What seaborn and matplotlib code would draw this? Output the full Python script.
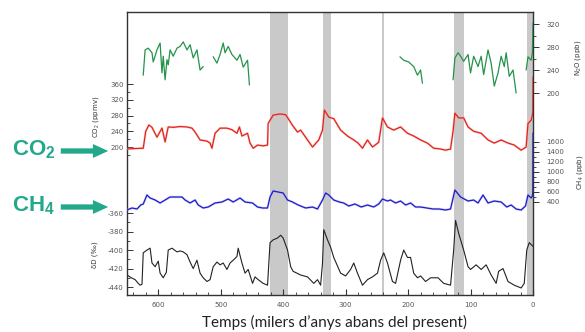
import numpy as np
import pandas as pd
import matplotlib
matplotlib.use("Agg")
import matplotlib.pyplot as plt
from matplotlib.ticker import MultipleLocator, FixedLocator
import seaborn as sns

sns.set_theme(style="ticks")
plt.rcParams["font.family"] = ["DejaVu Sans"]
plt.rcParams["axes.unicode_minus"] = False
plt.rcParams["mathtext.fontset"] = "custom"
plt.rcParams["mathtext.rm"] = "Liberation Sans"
plt.rcParams["mathtext.bf"] = "Liberation Sans:bold"

# -----------------------------
# Data (ages in kyr before present)
# -----------------------------
co2_age = [650, 640, 624, 620, 615, 610, 602, 594, 589, 584, 576, 565, 554, 546, 541,
           533, 522, 517, 514, 509, 501, 490, 482, 474, 470, 466, 457, 453, 448, 441,
           432, 425, 424, 416, 405, 396, 393, 385, 377, 372, 361, 353, 343, 337, 334,
           327, 319, 308, 297, 287, 280, 273, 265, 257, 247, 241, 233, 223, 212, 201,
           191, 180, 169, 159, 148, 140, 132, 128, 125, 119, 111, 104, 95, 83, 72,
           62, 51, 40, 30, 19, 11, 8, 3, 1, 0.3, 0]
co2_val = [195, 196, 197, 240, 256, 250, 225, 248, 213, 251, 250, 252, 251, 248, 238,
           218, 215, 210, 197, 235, 248, 248, 244, 235, 251, 228, 235, 210, 197, 205,
           203, 205, 260, 281, 284, 282, 275, 255, 238, 243, 218, 200, 218, 243, 294,
           276, 272, 243, 228, 218, 210, 197, 218, 200, 212, 274, 251, 243, 251, 235,
           228, 218, 210, 197, 195, 192, 195, 240, 286, 274, 274, 251, 240, 235, 218,
           210, 218, 210, 205, 192, 200, 260, 268, 281, 290, 378]

ch4_age = [650, 642, 634, 628, 624, 618, 613, 605, 597, 589, 581, 573, 562, 557, 549,
           541, 536, 528, 520, 509, 498, 488, 480, 469, 461, 449, 441, 433, 425, 421,
           416, 408, 400, 393, 385, 376, 364, 353, 345, 337, 332, 327, 319, 310, 303,
           295, 285, 275, 265, 255, 247, 241, 233, 228, 220, 212, 204, 196, 188, 180,
           170, 160, 150, 140, 132, 125, 116, 104, 95, 88, 80, 72, 62, 51, 42,
           35, 27, 19, 12, 8, 3, 1, 0.3, 0]
ch4_val = [240, 280, 260, 340, 360, 540, 480, 440, 380, 440, 500, 500, 500, 440, 380,
           440, 340, 280, 300, 380, 400, 460, 400, 480, 400, 380, 300, 280, 280, 500,
           620, 600, 580, 440, 400, 340, 280, 300, 260, 440, 580, 540, 440, 400, 380,
           320, 360, 300, 340, 300, 360, 460, 420, 440, 380, 420, 340, 380, 300, 300,
           280, 260, 260, 240, 260, 640, 500, 420, 440, 380, 540, 380, 420, 400, 300,
           340, 260, 240, 320, 540, 480, 520, 600, 1780]

dd_age = [650, 643, 637, 632, 629, 626, 624, 618, 613, 610, 605, 600, 597, 592, 587,
          584, 578, 570, 565, 560, 554, 549, 544, 538, 533, 528, 522, 517, 512, 506,
          501, 496, 490, 485, 480, 474, 472, 466, 461, 456, 449, 445, 440, 432, 425,
          421, 416, 409, 404, 400, 393, 388, 384, 372, 361, 351, 345, 340, 337, 335,
          329, 324, 319, 308, 300, 292, 287, 281, 273, 265, 257, 249, 244, 239, 233,
          225, 220, 212, 207, 201, 196, 191, 185, 180, 172, 164, 152, 143, 132, 127,
          124, 119, 111, 104, 100, 91, 83, 75, 67, 59, 55, 48, 40, 30, 19,
          14, 10, 6, 0]
dd_val = [-427, -430, -432, -436, -438, -437, -403, -400, -398, -414, -418, -412, -425, -430, -424,
          -400, -398, -402, -401, -402, -405, -413, -420, -411, -425, -430, -434, -432, -418, -413,
          -416, -414, -421, -414, -411, -407, -398, -414, -425, -421, -436, -429, -432, -436, -438,
          -392, -389, -387, -384, -387, -400, -418, -423, -427, -429, -436, -432, -438, -414, -378,
          -389, -397, -408, -425, -428, -421, -414, -425, -438, -432, -429, -425, -411, -403, -414,
          -434, -436, -411, -400, -408, -408, -425, -430, -428, -434, -430, -430, -436, -438, -400,
          -368, -382, -400, -418, -421, -416, -421, -416, -427, -436, -423, -420, -434, -438, -441,
          -436, -400, -392, -396]

# N2O record has gaps (NaN separates the pieces)
n2o_age = [624, 621, 616, 610, 608, 602, 597, 594, 592, 589, 586, 584, 581, 576, 570,
           565, 560, 554, 549, 544, 538, 533, 528, np.nan,
           512, 506, 501, 496, 493, 488, 482, 474, 469, 464, 457, 454, np.nan,
           213, 207, 199, 191, 185, 180, 177, np.nan,
           128, 125, 120, 116, 111, 104, 100, 95, 88, 83, 79, 72, 67, 62, 56,
           51, 46, 43, 38, 32, 27, np.nan,
           11, 8, 3, 1, 0]
n2o_val = [231, 275, 278, 270, 254, 275, 287, 235, 264, 223, 258, 249, 275, 264, 278,
           281, 289, 275, 284, 261, 275, 240, 246, np.nan,
           263, 252, 267, 287, 270, 281, 267, 257, 267, 245, 257, 214, np.nan,
           263, 257, 254, 246, 231, 240, 217, np.nan,
           223, 261, 270, 264, 255, 267, 235, 264, 246, 264, 232, 275, 252, 212, 235,
           264, 246, 270, 229, 240, 200, np.nan,
           240, 263, 257, 270, 322]

interglacials = [(421, 393), (337, 323), (241, 238.5), (127, 111), (10, 0)]

x_ticks = [600, 500, 400, 300, 200, 100, 0]
co2_ticks = [200, 240, 280, 320, 360]
dd_ticks = [-440, -420, -400, -380, -360]
n2o_ticks = [200, 240, 280, 320]
ch4_ticks = [400, 600, 800, 1000, 1200, 1400, 1600]

TEAL = "#23a98a"
TICK_COL = "#555555"

# -----------------------------
# Figure
# -----------------------------
W, H = 585, 332
fig = plt.figure(figsize=(W / 100, H / 100), dpi=100)
pos = [127 / W, 37 / H, 406 / W, 283 / H]

ax = fig.add_axes(pos)  # deltaD axis, also holds the frame and bands
ax.set_xlim(650, 0)
ax.set_ylim(-448.6, -142.7)
for s in ax.spines.values():
    s.set_color("#333333")
    s.set_linewidth(1.0)

for a, b in interglacials:
    ax.axvspan(a, b, color="#c9c9c9", lw=0, zorder=0)

sns.lineplot(x=dd_age, y=dd_val, ax=ax, color="#222222", lw=0.8,
             estimator=None, sort=False)

def overlay():
    o = fig.add_axes(pos, sharex=ax, frameon=False)
    o.patch.set_visible(False)
    o.xaxis.set_visible(False)
    return o

ax_co2 = overlay()
ax_co2.set_ylim(-175.6, 542.8)
sns.lineplot(x=co2_age, y=co2_val, ax=ax_co2, color="#f6a4a4", lw=1.8, alpha=0.45,
             estimator=None, sort=False)
sns.lineplot(x=co2_age, y=co2_val, ax=ax_co2, color="#e2231a", lw=0.9,
             estimator=None, sort=False)

ax_ch4 = overlay()
ax_ch4.set_ylim(-1460, 4200)
sns.lineplot(x=ch4_age, y=ch4_val, ax=ax_ch4, color="#a8a8f2", lw=1.8, alpha=0.45,
             estimator=None, sort=False)
sns.lineplot(x=ch4_age, y=ch4_val, ax=ax_ch4, color="#1c1cc8", lw=0.9,
             estimator=None, sort=False)

ax_n2o = overlay()
ax_n2o.set_ylim(-151.3, 340.9)
n2o = pd.DataFrame({"age": n2o_age, "val": n2o_val})
n2o["seg"] = n2o["age"].isna().cumsum()
n2o = n2o.dropna()
sns.lineplot(data=n2o, x="age", y="val", units="seg", estimator=None, sort=False,
             ax=ax_n2o, color="#23934a", lw=0.9)

ax.set_xlim(650, 0)

# -----------------------------
# Ticks
# -----------------------------
ax.xaxis.set_major_locator(FixedLocator(x_ticks))
ax.xaxis.set_minor_locator(MultipleLocator(20))
ax.tick_params(axis="x", which="both", direction="in", top=False, bottom=True,
               labelsize=5, colors="#333333", labelcolor=TICK_COL, pad=5)
ax.tick_params(axis="x", which="major", length=4, width=0.8)
ax.tick_params(axis="x", which="minor", length=2.5, width=0.6)

def left_ticks(a, ticks, minor):
    a.yaxis.set_major_locator(FixedLocator(ticks))
    a.yaxis.set_minor_locator(FixedLocator(minor))
    a.yaxis.tick_left()
    a.tick_params(axis="y", which="both", direction="in", labelsize=5,
                  colors="#333333", labelcolor=TICK_COL, pad=2.5)
    a.tick_params(axis="y", which="major", length=4, width=0.7)
    a.tick_params(axis="y", which="minor", length=2.5, width=0.6)

def right_ticks(a, ticks, minor):
    a.yaxis.set_major_locator(FixedLocator(ticks))
    a.yaxis.set_minor_locator(FixedLocator(minor))
    a.yaxis.tick_right()
    a.tick_params(axis="y", which="both", direction="out", labelsize=5,
                  colors="#333333", labelcolor=TICK_COL, pad=5)
    a.tick_params(axis="y", which="major", length=4.5, width=0.7)
    a.tick_params(axis="y", which="minor", length=2.5, width=0.6)

left_ticks(ax, dd_ticks, [-450, -430, -410, -390, -370])
left_ticks(ax_co2, co2_ticks, [180, 220, 260, 300, 340])
right_ticks(ax_n2o, n2o_ticks, [220, 260, 300])
right_ticks(ax_ch4, ch4_ticks, [500, 700, 900, 1100, 1300, 1500])

for a in (ax, ax_co2, ax_ch4, ax_n2o):
    a.set_xlabel("")
    a.set_ylabel("")

# -----------------------------
# Axis titles and annotations
# -----------------------------
def fx(px):
    return px / W

def fy(py):
    return 1 - py / H

fig.text(fx(96), fy(117), "CO$_2$ (ppmv)", rotation=90, ha="center", va="center",
         fontsize=5, color="#333333")
fig.text(fx(95), fy(255), "δD (‰)", rotation=90, ha="center", va="center",
         fontsize=5, color="#333333")
fig.text(fx(578), fy(58), "N$_2$O (ppb)", rotation=90, ha="center", va="center",
         fontsize=5, color="#333333")
fig.text(fx(580), fy(172), "CH$_4$ (ppb)", rotation=90, ha="center", va="center",
         fontsize=5, color="#333333")

fig.text(fx(335), fy(322), "Temps (milers d\u2019anys abans del present)",
         ha="center", va="center", fontsize=11, family="Lato", color="#222222")

for label, py in [(r"CO$_\mathbf{2}$", 150), (r"CH$_\mathbf{4}$", 206)]:
    fig.text(fx(12), fy(py), label, ha="left", va="center", fontsize=16,
             family="Liberation Sans", weight="bold", color=TEAL)
    ax.annotate("", xy=(111, H - py - 1), xytext=(58, H - py - 1),
                xycoords="figure pixels", textcoords="figure pixels",
                annotation_clip=False,
                arrowprops=dict(arrowstyle="simple,head_length=1.1,head_width=1.0,tail_width=0.38",
                                mutation_scale=10, color=TEAL, lw=0))

fig.savefig("out.png", dpi=100)
